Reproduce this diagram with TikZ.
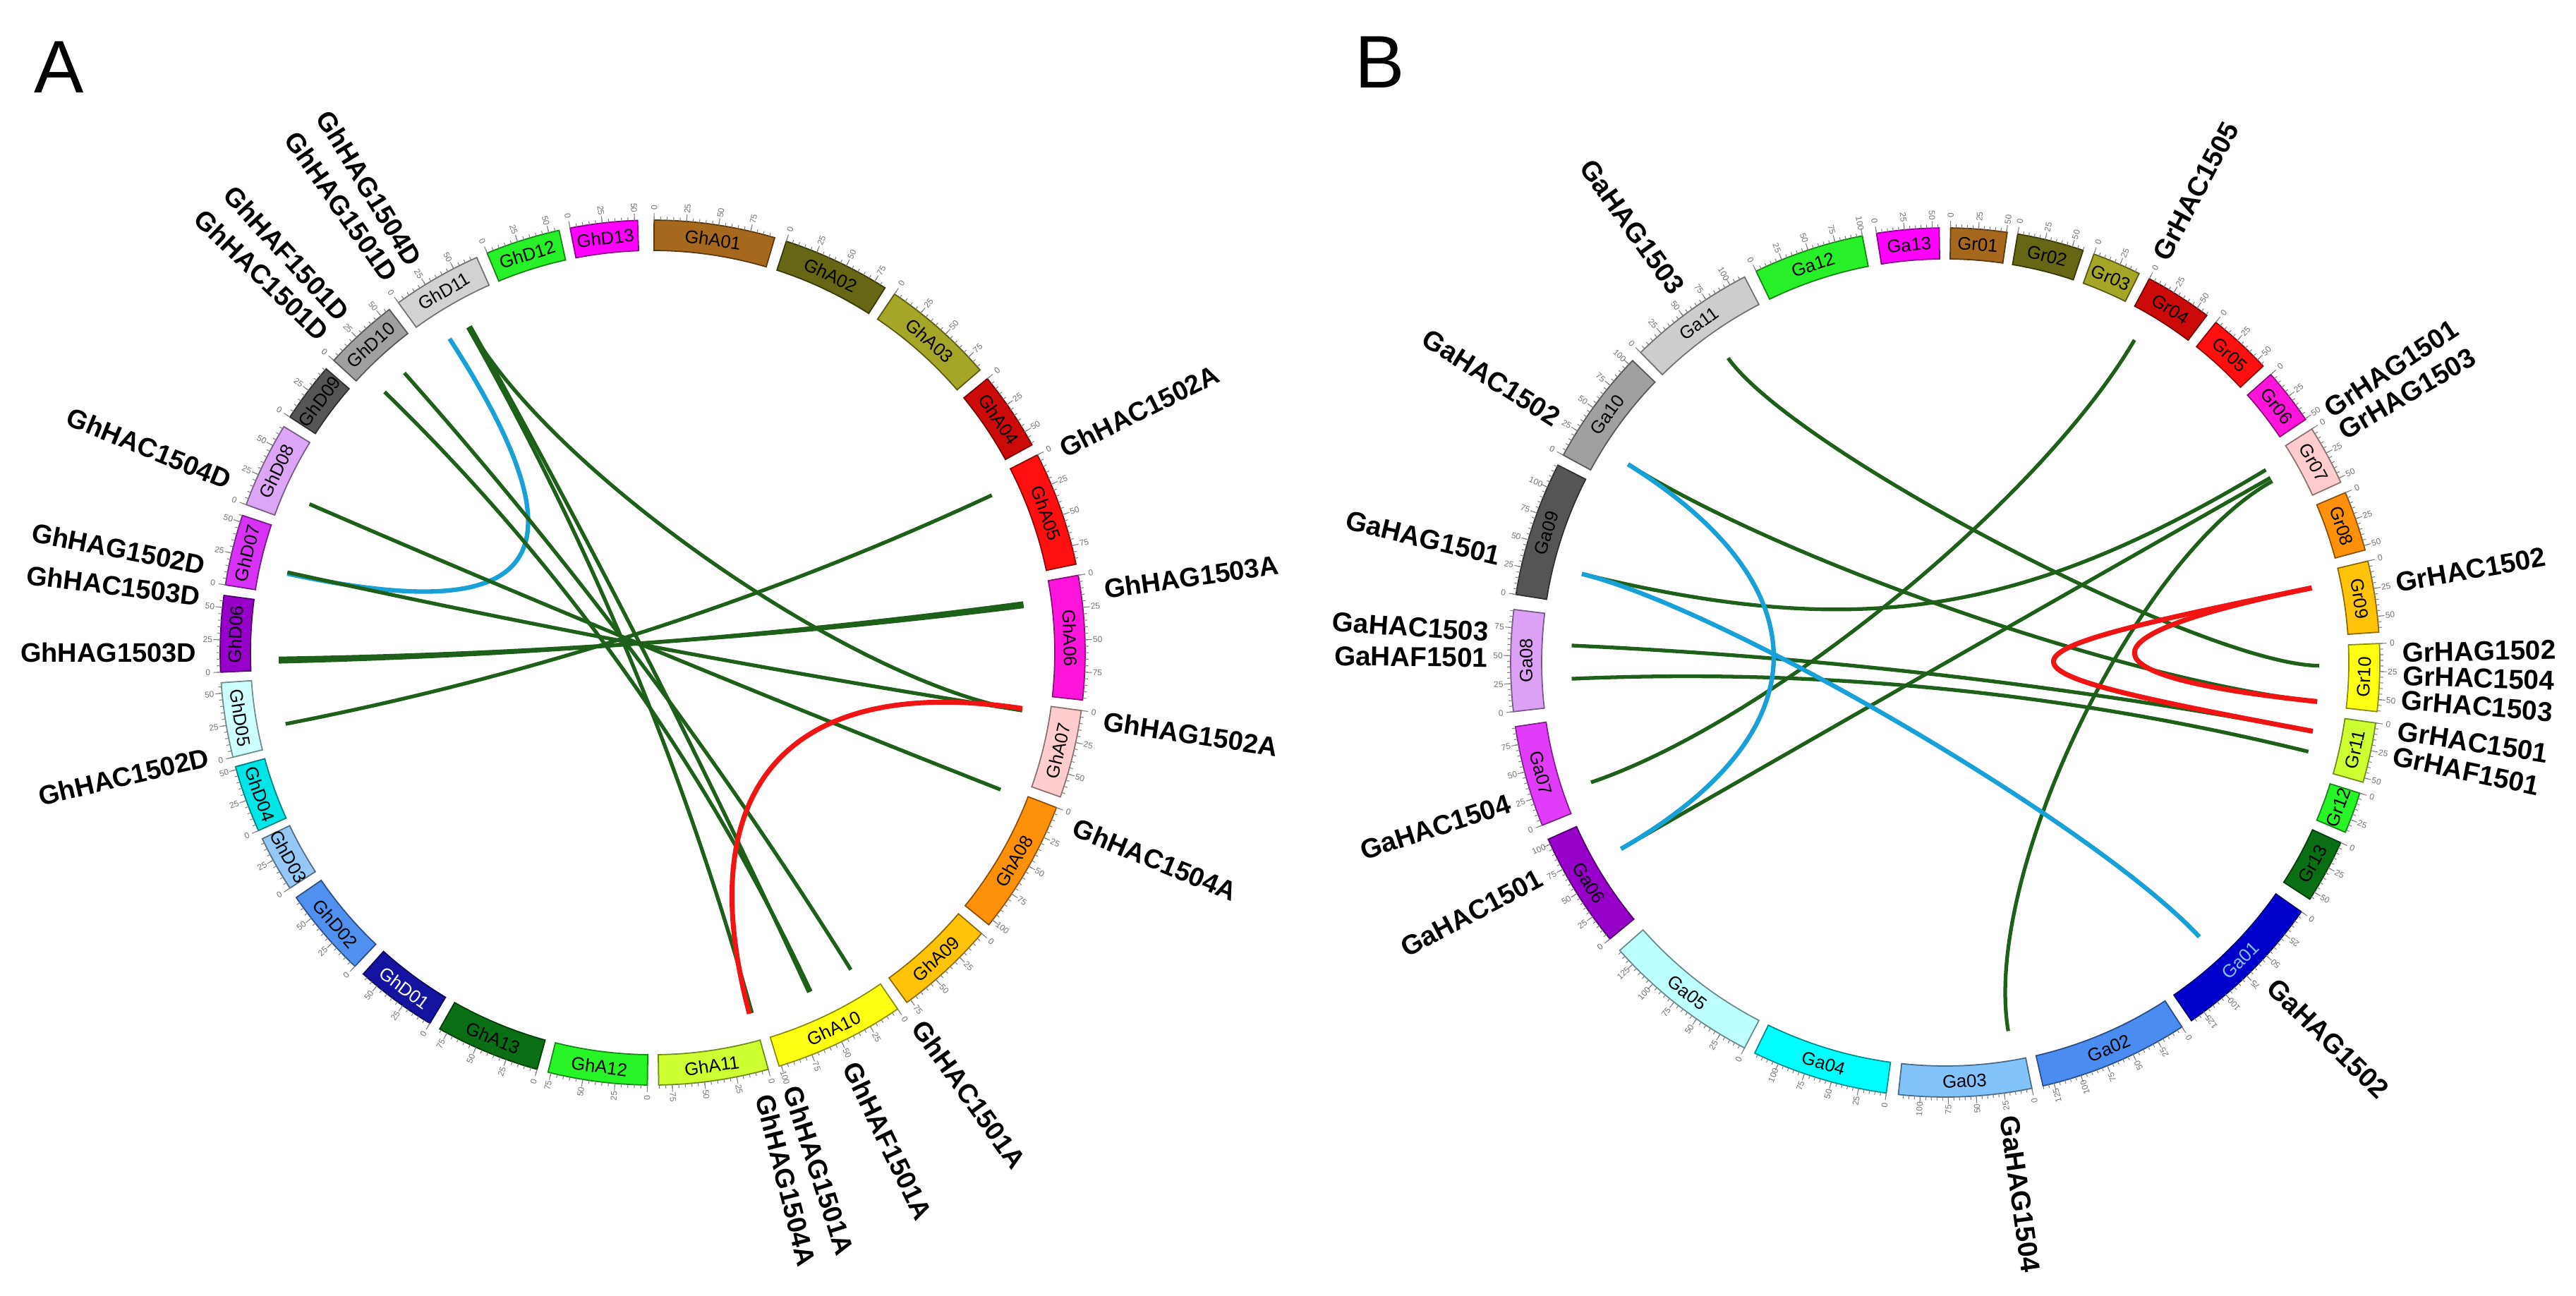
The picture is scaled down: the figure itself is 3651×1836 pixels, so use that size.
\documentclass[tikz,border=0pt]{standalone}
\usepackage{fontspec}
\setmainfont{Liberation Sans}
\usetikzlibrary{calc}
\definecolor{lkgreen}{RGB}{30,95,25}
\definecolor{lkblue}{RGB}{25,160,215}
\definecolor{lkred}{RGB}{240,20,20}
\definecolor{c01}{RGB}{166,104,28}
\definecolor{c02}{RGB}{102,102,20}
\definecolor{c03}{RGB}{165,165,40}
\definecolor{c04}{RGB}{205,10,10}
\definecolor{c05}{RGB}{255,15,15}
\definecolor{c06}{RGB}{255,20,220}
\definecolor{c07}{RGB}{255,205,205}
\definecolor{c08}{RGB}{255,145,10}
\definecolor{c09}{RGB}{255,195,10}
\definecolor{c10}{RGB}{255,255,20}
\definecolor{c11}{RGB}{205,255,50}
\definecolor{c12}{RGB}{40,245,40}
\definecolor{c13}{RGB}{10,110,20}
\definecolor{d01}{RGB}{20,20,160}
\definecolor{d02}{RGB}{80,145,240}
\definecolor{d03}{RGB}{150,200,245}
\definecolor{d04}{RGB}{0,230,230}
\definecolor{d05}{RGB}{205,255,255}
\definecolor{d06}{RGB}{150,0,200}
\definecolor{d07}{RGB}{215,50,245}
\definecolor{d08}{RGB}{220,165,245}
\definecolor{d09}{RGB}{85,85,85}
\definecolor{d10}{RGB}{160,160,160}
\definecolor{d11}{RGB}{210,210,210}
\definecolor{d12}{RGB}{40,240,40}
\definecolor{d13}{RGB}{255,0,255}
\definecolor{a01}{RGB}{0,0,205}
\definecolor{a02}{RGB}{75,140,240}
\definecolor{a03}{RGB}{130,195,250}
\definecolor{a04}{RGB}{0,255,255}
\definecolor{a05}{RGB}{190,255,255}
\definecolor{a06}{RGB}{150,0,200}
\definecolor{a07}{RGB}{225,60,250}
\definecolor{a08}{RGB}{220,160,245}
\definecolor{a09}{RGB}{85,85,85}
\definecolor{a10}{RGB}{160,160,160}
\definecolor{a11}{RGB}{205,205,205}
\definecolor{a12}{RGB}{40,240,40}
\definecolor{a13}{RGB}{255,0,255}
\tikzset{
  seglab/.style={font=\fontsize{7.3}{7.3}\selectfont, inner sep=0pt},
  ticklab/.style={font=\fontsize{3.4}{3.4}\selectfont, text=black!55, inner sep=0pt},
  tickline/.style={draw=black!50, line width=0.3pt},
  genelabA/.style={font=\bfseries\fontsize{10.8}{10.8}\selectfont, inner sep=0pt},
  genelabB/.style={font=\bfseries\fontsize{11}{11}\selectfont, inner sep=0pt},
  glink/.style={draw=lkgreen, line width=1.5pt},
  blink/.style={draw=lkblue, line width=1.8pt},
  rlink/.style={draw=lkred, line width=2pt},
  panellab/.style={font=\fontsize{30}{30}\selectfont, inner sep=0pt}
}
\newcommand{\seg}[5]{%
  \fill[fill=#4, draw=#4!55!black, line width=0.5pt]
    (#2:\Rin) arc[start angle=#2, end angle=#3, radius=\Rin]
    -- (#3:\Rout) arc[start angle=#3, end angle=#2, radius=\Rout] -- cycle;
  \pgfmathsetmacro\segmid{(#2+#3)/2}
  \pgfmathsetmacro\segrot{ifthenelse(and(\segmid>0,\segmid<180),\segmid-90,\segmid+90)}
  \pgfmathsetmacro\segr{(\Rin+\Rout)/2}
  \node[seglab, text=#5, rotate=\segrot] (#1) at (\segmid:\segr) {#1};
  \pgfmathsetmacro\nmin{int(floor((#3-#2)/(\Mstep/5)))}
  \foreach \k in {0,...,\nmin}{\draw[tickline] ({#3-\k*\Mstep/5}:\Rout) -- ({#3-\k*\Mstep/5}:\Rtk);}
  \pgfmathsetmacro\nmaj{int(floor((#3-#2)/\Mstep))}
  \foreach \k in {0,...,\nmaj}{%
    \pgfmathsetmacro\ta{#3-\k*\Mstep}
    \pgfmathsetmacro\tl{int(25*\k)}
    \pgfmathsetmacro\trot{ifthenelse(and(\ta>-90,\ta<90),\ta,\ta-180)}
    \draw[tickline] (\ta:\Rout) -- (\ta:\RTk);
    \node[ticklab, rotate=\trot] (#1t\k) at (\ta:\Rtl) {\tl};
  }
}
\newcommand{\glabR}[3]{\node[#3, anchor=west, rotate=#2] (#1) at (#2:\Rg) {#1};}
\newcommand{\glabL}[3]{\node[#3, anchor=east, rotate=#2-180] (#1) at (#2:\Rg) {#1};}
\newcommand{\lnk}[6]{%
  \coordinate (#1s) at (#2:\Rl);
  \coordinate (#1e) at (#3:\Rl);
  \draw[#5] (#1s) .. controls ($(#6)!#4!(#1s)$) and ($(#6)!#4!(#1e)$) .. (#1e);
}
\begin{document}
\begin{tikzpicture}[x=0.01cm, y=0.01cm]
\useasboundingbox (0,0) rectangle (3651,-1836);
\fill[white] (0,0) rectangle (3651,-1836);
\node[panellab] (labA) at (84,-95) {A};
\node[panellab] (labB) at (1956,-88) {B};
% ---------------- Panel A ----------------
\begin{scope}[shift={(925,-925)}]
\coordinate (cA) at (0,0);
\def\Rin{570}\def\Rout{613}\def\Rtk{618}\def\RTk{623}\def\Rtl{631}\def\Mstep{4.3}
\def\Rl{530}\def\Rg{646}
\seg{GhA01}{73.6}{89.8}{c01}{black}
\seg{GhA02}{57.5}{72}{c02}{black}
\seg{GhA03}{40.8}{56}{c03}{black}
\seg{GhA04}{28.7}{39.3}{c04}{black}
\seg{GhA05}{11.8}{27.2}{c05}{black}
\seg{GhA06}{-6.3}{10.3}{c06}{black}
\seg{GhA07}{-19.5}{-7.7}{c07}{black}
\seg{GhA08}{-39}{-21}{c08}{black}
\seg{GhA09}{-54}{-40.5}{c09}{black}
\seg{GhA10}{-73}{-55.5}{c10}{black}
\seg{GhA11}{-89.2}{-74.5}{c11}{black}
\seg{GhA12}{256}{269.3}{c12}{black}
\seg{GhA13}{240.5}{254.5}{c13}{black}
\seg{GhD01}{228}{239}{d01}{white}
\seg{GhD02}{214.5}{226.5}{d02}{black}
\seg{GhD03}{205.5}{213}{d03}{black}
\seg{GhD04}{195.3}{204.3}{d04}{black}
\seg{GhD05}{184}{194}{d05}{black}
\seg{GhD06}{172.4}{182.6}{d06}{black}
\seg{GhD07}{161.5}{171}{d07}{black}
\seg{GhD08}{148.5}{160}{d08}{black}
\seg{GhD09}{139}{147}{d09}{black}
\seg{GhD10}{127.5}{137.5}{d10}{black}
\seg{GhD11}{114}{126}{d11}{black}
\seg{GhD12}{102.5}{112.5}{d12}{black}
\seg{GhD13}{92}{101}{d13}{black}
% links
\lnk{Lb}{122.9}{167.8}{0.3}{blink}{cA}
\lnk{Lg1}{119.6}{-74.6}{0.3333}{glink}{cA}
\lnk{Lg2}{119.2}{-65.3}{0.3333}{glink}{cA}
\lnk{Lg3}{119.4}{-8.9}{0.55}{glink}{cA}
\lnk{Lg4}{131.6}{-58}{0.3333}{glink}{cA}
\lnk{Lg5}{135.8}{-65}{0.3333}{glink}{cA}
\lnk{Lg6}{156.6}{-21.5}{0.3333}{glink}{cA}
\lnk{Lg7}{167.6}{-8.9}{0.3333}{glink}{cA}
\lnk{Lg8}{181.4}{7.6}{0.3333}{glink}{cA}
\lnk{Lg9}{180.9}{7.1}{0.3333}{glink}{cA}
\lnk{Lg10}{191}{24.9}{0.3333}{glink}{cA}
\lnk{Lr}{-8.6}{-75}{0.37}{rlink}{cA}
% gene labels
\glabR{GhHAC1502A}{26.4}{genelabA}
\glabR{GhHAG1503A}{8}{genelabA}
\glabR{GhHAG1502A}{-8.6}{genelabA}
\glabR{GhHAC1504A}{-22.4}{genelabA}
\glabR{GhHAC1501A}{-54.4}{genelabA}
\glabR{GhHAF1501A}{-64.3}{genelabA}
\glabR{GhHAG1501A}{-72.2}{genelabA}
\glabR{GhHAG1504A}{-75.8}{genelabA}
\glabL{GhHAC1502D}{193.2}{genelabA}
\glabL{GhHAG1503D}{180}{genelabA}
\glabL{GhHAC1503D}{172.9}{genelabA}
\glabL{GhHAG1502D}{169}{genelabA}
\glabL{GhHAC1504D}{157.9}{genelabA}
\glabL{GhHAC1501D}{136}{genelabA}
\glabL{GhHAF1501D}{132.5}{genelabA}
\glabL{GhHAG1501D}{124.9}{genelabA}
\glabL{GhHAG1504D}{121.4}{genelabA}
\end{scope}
% ---------------- Panel B ----------------
\begin{scope}[shift={(2757,-939)}]
\coordinate (cB) at (0,0);
\def\Rin{572}\def\Rout{616}\def\Rtk{621}\def\RTk{626}\def\Rtl{634}\def\Mstep{3.7}
\def\Rl{530}\def\Rg{648}
\seg{Ga13}{90.8}{99.1}{a13}{black}
\seg{Ga12}{101}{115.8}{a12}{black}
\seg{Ga11}{117.5}{134.5}{a11}{black}
\seg{Ga10}{136}{151.5}{a10}{black}
\seg{Ga09}{153}{171}{a09}{black}
\seg{Ga08}{173}{186.5}{a08}{black}
\seg{Ga07}{188.5}{202}{a07}{black}
\seg{Ga06}{204}{219.5}{a06}{black}
\seg{Ga05}{221.5}{242.5}{a05}{black}
\seg{Ga04}{244}{262.2}{a04}{black}
\seg{Ga03}{263.8}{281.5}{a03}{black}
\seg{Ga02}{283}{303}{a02}{black}
\seg{Ga01}{304.5}{325}{a01}{a03}
\seg{Gr13}{-33}{-24.5}{c13}{black}
\seg{Gr12}{-23}{-17.5}{c12}{black}
\seg{Gr11}{-16}{-8}{c11}{black}
\seg{Gr10}{-6.5}{2.5}{c10}{black}
\seg{Gr09}{4}{13.5}{c09}{black}
\seg{Gr08}{15}{23}{c08}{black}
\seg{Gr07}{24.5}{32.5}{c07}{black}
\seg{Gr06}{34}{41.5}{c06}{black}
\seg{Gr05}{43}{51.5}{c05}{black}
\seg{Gr04}{53}{62}{c04}{black}
\seg{Gr03}{63.5}{70}{c03}{black}
\seg{Gr02}{71.5}{80.4}{c02}{black}
\seg{Gr01}{81.8}{89.3}{c01}{black}
% links
\lnk{Mg1}{125.5}{-0.5}{0.69}{glink}{cB}
\lnk{Mg2}{59.6}{198.7}{0.5}{glink}{cB}
\lnk{Mg3}{31}{166.3}{0.24}{glink}{cB}
\lnk{Mg4}{29.6}{209.9}{0.3333}{glink}{cB}
\lnk{Mg5}{29}{-80.3}{0.58}{glink}{cB}
\lnk{Mg6}{148}{-6}{0.5}{glink}{cB}
\lnk{Mg7}{177.4}{-10.6}{0.3333}{glink}{cB}
\lnk{Mg8}{182.5}{-13.8}{0.3333}{glink}{cB}
\lnk{Mb1}{148}{209.9}{0.38}{blink}{cB}
\lnk{Mb2}{166.3}{-47.2}{0.6}{blink}{cB}
\lnk{Mr1}{11.5}{-6}{0.35}{rlink}{cB}
\lnk{Mr2}{11.5}{-10.6}{0.06}{rlink}{cB}
% gene labels
\glabL{GaHAG1503}{125.7}{genelabB}
\glabL{GaHAC1502}{147.9}{genelabB}
\glabL{GaHAG1501}{166.6}{genelabB}
\glabL{GaHAC1503}{176.2}{genelabB}
\glabL{GaHAF1501}{179.4}{genelabB}
\glabL{GaHAC1504}{197.9}{genelabB}
\glabL{GaHAC1501}{207.9}{genelabB}
\glabR{GaHAG1502}{-44.5}{genelabB}
\glabR{GaHAG1504}{-82}{genelabB}
\glabR{GrHAC1505}{62}{genelabB}
\glabR{GrHAG1501}{33.4}{genelabB}
\glabR{GrHAG1503}{30.2}{genelabB}
\glabR{GrHAC1502}{10}{genelabB}
\glabR{GrHAG1502}{1.2}{genelabB}
\glabR{GrHAC1504}{-1.7}{genelabB}
\glabR{GrHAC1503}{-4.7}{genelabB}
\glabR{GrHAC1501}{-8.6}{genelabB}
\glabR{GrHAF1501}{-11.8}{genelabB}
\end{scope}
\end{tikzpicture}
\end{document}
